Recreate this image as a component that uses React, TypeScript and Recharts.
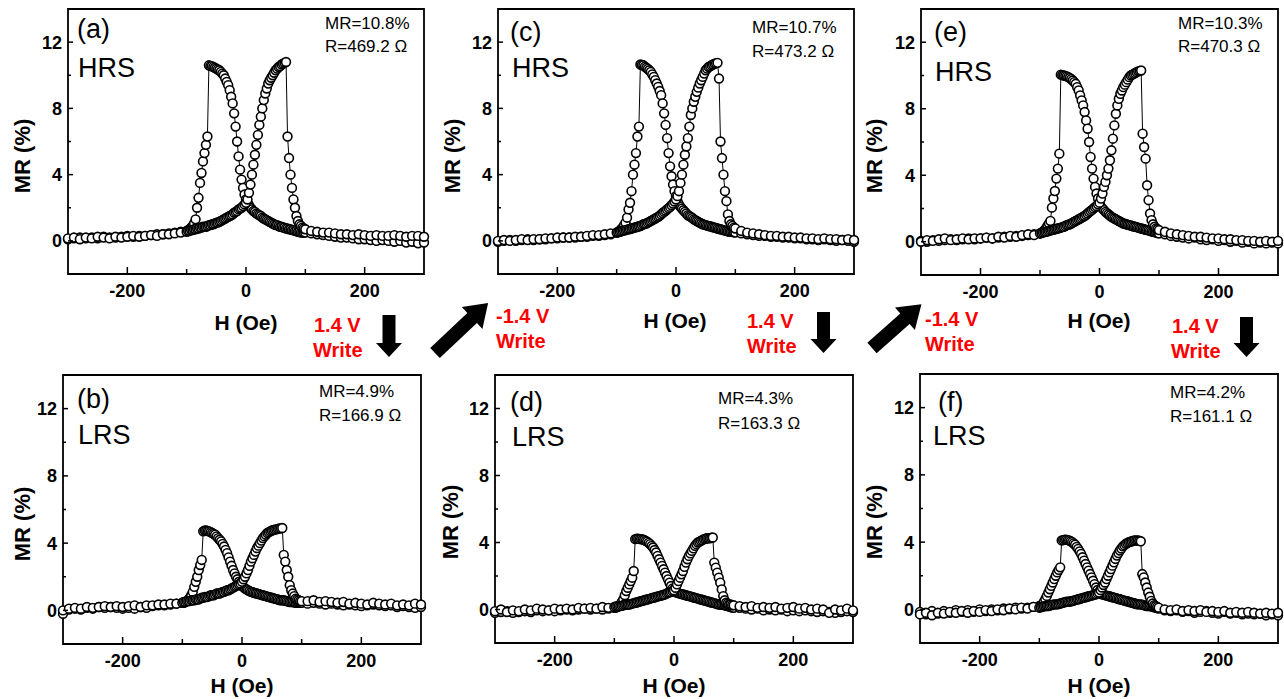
import React from 'react';
import { LineChart, Line, XAxis, YAxis, ReferenceArea } from 'recharts';

// field grid shared by every sweep (Oe), low to high
const H_FIELD = [
  -300, -290, -280, -270, -260, -250, -240, -230, -220, -210, -200, -190, -180, -170, -160, -150, -140, -130, -120, -110,
  -100, -97.5, -95, -92.5, -90, -87.5, -85, -82.5, -80, -77.5, -75, -72.5, -70, -67.5, -65, -62.5, -60, -57.5, -55, -52.5,
  -50, -47.5, -45, -42.5, -40, -37.5, -35, -32.5, -30, -27.5, -25, -22.5, -20, -17.5, -15, -12.5, -10, -7.5, -5, -2.5, 0,
  2.5, 5, 7.5, 10, 12.5, 15, 17.5, 20, 22.5, 25, 27.5, 30, 32.5, 35, 37.5, 40, 42.5, 45, 47.5, 50,
  52.5, 55, 57.5, 60, 62.5, 65, 67.5, 70, 72.5, 75, 77.5, 80, 82.5, 85, 87.5, 90, 92.5, 95, 97.5, 100,
  110, 120, 130, 140, 150, 160, 170, 180, 190, 200, 210, 220, 230, 240, 250, 260, 270, 280, 290, 300,
];

const X_TICKS = [-200, -100, 0, 100, 200];
const X_LABELS = [-200, 0, 200];
const Y_TICKS = [0, 2, 4, 6, 8, 10, 12];
const Y_LABELS = [0, 4, 8, 12];

// MR (%) per panel, "up" = sweep from -300 to +300, "down" = sweep from +300 to -300
const mrA_up = [
  0.15, 0.2, 0.1, 0.2, 0.15, 0.25, 0.2, 0.15, 0.25, 0.2, 0.25, 0.3, 0.25, 0.3, 0.35, 0.3, 0.4, 0.4, 0.45, 0.5,
  0.55, 0.6, 0.6, 0.65, 0.65, 0.7, 0.7, 0.75, 0.75, 0.8, 0.8, 0.85, 0.85, 0.85, 0.9, 0.95, 0.95, 1.0, 1.0, 1.05,
  1.1, 1.1, 1.15, 1.2, 1.25, 1.3, 1.35, 1.4, 1.45, 1.5, 1.55, 1.6, 1.7, 1.75, 1.8, 1.9, 1.95, 2.0, 2.1, 2.2, 2.3,
  2.5, 2.9, 3.4, 4.0, 4.6, 5.2, 5.8, 6.4, 7.0, 7.5, 8.0, 8.5, 8.9, 9.2, 9.5, 9.7, 9.85, 10.0, 10.15, 10.3,
  10.4, 10.5, 10.55, 10.65, 10.7, 10.75, 10.8, 6.3, 5.0, 4.0, 3.2, 2.5, 2.0, 1.5, 1.2, 1.0, 0.9, 0.8, 0.75, 0.7,
  0.6, 0.55, 0.5, 0.5, 0.45, 0.4, 0.4, 0.35, 0.4, 0.35, 0.3, 0.35, 0.3, 0.3, 0.35, 0.3, 0.25, 0.3, 0.3, 0.25,
];
const mrA_down = [
  0.1, 0.15, 0.2, 0.15, 0.2, 0.15, 0.25, 0.2, 0.2, 0.25, 0.3, 0.25, 0.3, 0.3, 0.35, 0.4, 0.4, 0.45, 0.5, 0.55,
  0.6, 0.65, 0.7, 0.8, 0.9, 1.05, 1.3, 2.0, 2.6, 3.5, 4.1, 4.8, 5.3, 5.8, 6.3, 10.6, 10.55, 10.55, 10.5, 10.45,
  10.4, 10.35, 10.3, 10.2, 10.1, 10.0, 9.8, 9.6, 9.4, 9.1, 8.7, 8.3, 7.7, 6.9, 6.0, 5.1, 4.3, 3.7, 3.2, 2.8, 2.5,
  2.3, 2.15, 2.0, 1.9, 1.8, 1.75, 1.65, 1.6, 1.55, 1.5, 1.4, 1.35, 1.3, 1.25, 1.2, 1.15, 1.1, 1.05, 1.0, 0.95,
  0.95, 0.9, 0.85, 0.85, 0.8, 0.8, 0.75, 0.75, 0.7, 0.7, 0.65, 0.65, 0.6, 0.6, 0.55, 0.55, 0.5, 0.5, 0.5, 0.5,
  0.45, 0.4, 0.35, 0.3, 0.25, 0.2, 0.2, 0.15, 0.1, 0.1, 0.05, 0.0, 0.05, 0.0, -0.05, 0.0, -0.1, -0.05, -0.15, -0.1,
];

const mrB_up = [
  0.0, 0.1, 0.15, 0.1, 0.2, 0.15, 0.2, 0.25, 0.2, 0.25, 0.2, 0.25, 0.3, 0.2, 0.3, 0.3, 0.35, 0.35, 0.4, 0.4,
  0.45, 0.5, 0.5, 0.55, 0.55, 0.55, 0.6, 0.6, 0.6, 0.65, 0.65, 0.65, 0.7, 0.75, 0.75, 0.8, 0.8, 0.8, 0.85, 0.9,
  0.9, 0.9, 0.95, 1.0, 1.0, 1.0, 1.05, 1.1, 1.1, 1.15, 1.2, 1.2, 1.25, 1.3, 1.35, 1.4, 1.45, 1.5, 1.55, 1.6, 1.7,
  1.85, 2.0, 2.2, 2.4, 2.65, 2.9, 3.1, 3.3, 3.5, 3.7, 3.85, 4.0, 4.15, 4.3, 4.4, 4.5, 4.6, 4.65, 4.7, 4.75,
  4.78, 4.8, 4.82, 4.85, 4.87, 4.88, 4.9, 3.3, 2.9, 2.4, 2.0, 1.5, 1.2, 1.0, 0.85, 0.7, 0.65, 0.6, 0.55, 0.55,
  0.55, 0.6, 0.5, 0.55, 0.5, 0.45, 0.5, 0.4, 0.45, 0.4, 0.35, 0.45, 0.4, 0.35, 0.4, 0.3, 0.35, 0.3, 0.4, 0.35,
];
const mrB_down = [
  -0.2, 0.05, 0.1, 0.05, 0.15, 0.1, 0.2, 0.15, 0.2, 0.15, 0.1, 0.15, 0.1, 0.2, 0.15, 0.25, 0.3, 0.3, 0.35, 0.4,
  0.45, 0.45, 0.5, 0.55, 0.6, 0.75, 0.9, 1.1, 1.4, 1.7, 2.0, 2.4, 2.7, 3.0, 4.7, 4.75, 4.75, 4.72, 4.7, 4.65,
  4.6, 4.55, 4.5, 4.4, 4.3, 4.2, 4.1, 3.95, 3.8, 3.6, 3.4, 3.15, 2.9, 2.65, 2.4, 2.2, 2.0, 1.85, 1.7, 1.55, 1.45,
  1.38, 1.3, 1.25, 1.2, 1.15, 1.1, 1.08, 1.05, 1.02, 1.0, 0.97, 0.95, 0.92, 0.9, 0.87, 0.85, 0.82, 0.8, 0.77, 0.75,
  0.72, 0.7, 0.67, 0.65, 0.62, 0.6, 0.6, 0.6, 0.57, 0.55, 0.52, 0.5, 0.5, 0.5, 0.48, 0.45, 0.45, 0.45, 0.45, 0.45,
  0.4, 0.45, 0.4, 0.35, 0.4, 0.35, 0.3, 0.35, 0.3, 0.25, 0.3, 0.35, 0.3, 0.25, 0.3, 0.2, 0.25, 0.2, 0.15, 0.2,
];

const mrC_up = [
  0.0, 0.05, 0.0, 0.05, 0.1, 0.05, 0.1, 0.1, 0.15, 0.15, 0.2, 0.2, 0.2, 0.25, 0.25, 0.3, 0.35, 0.35, 0.4, 0.45,
  0.5, 0.52, 0.55, 0.58, 0.6, 0.62, 0.65, 0.68, 0.7, 0.72, 0.75, 0.78, 0.8, 0.82, 0.85, 0.88, 0.9, 0.95, 1.0, 1.02,
  1.05, 1.1, 1.15, 1.2, 1.25, 1.3, 1.35, 1.4, 1.45, 1.52, 1.6, 1.68, 1.75, 1.82, 1.9, 1.98, 2.05, 2.15, 2.25, 2.38, 2.5,
  2.7, 3.0, 3.5, 4.0, 4.6, 5.2, 5.7, 6.2, 6.9, 7.6, 8.0, 8.4, 8.7, 9.0, 9.25, 9.5, 9.7, 9.9, 10.1, 10.3,
  10.4, 10.5, 10.55, 10.6, 10.65, 10.7, 10.72, 10.75, 9.8, 6.0, 5.0, 4.0, 3.0, 2.4, 1.6, 1.2, 1.0, 0.9, 0.8, 0.75,
  0.6, 0.5, 0.45, 0.4, 0.35, 0.3, 0.3, 0.25, 0.25, 0.2, 0.2, 0.15, 0.15, 0.1, 0.15, 0.1, 0.1, 0.05, 0.1, 0.05,
];
const mrC_down = [
  -0.05, 0.0, 0.05, 0.0, 0.05, 0.1, 0.05, 0.1, 0.1, 0.15, 0.15, 0.2, 0.2, 0.2, 0.25, 0.25, 0.3, 0.3, 0.35, 0.4,
  0.5, 0.55, 0.6, 0.7, 0.8, 0.95, 1.1, 1.4, 1.9, 2.3, 3.0, 4.0, 4.6, 5.3, 6.3, 6.9, 10.65, 10.62, 10.6, 10.52,
  10.45, 10.38, 10.3, 10.2, 10.05, 9.9, 9.7, 9.5, 9.3, 9.05, 8.8, 8.3, 7.7, 7.0, 6.2, 5.3, 4.5, 3.9, 3.4, 3.0, 2.7,
  2.4, 2.2, 2.05, 1.95, 1.85, 1.75, 1.65, 1.55, 1.5, 1.45, 1.38, 1.3, 1.25, 1.2, 1.15, 1.1, 1.05, 1.0, 0.98, 0.95,
  0.92, 0.9, 0.88, 0.85, 0.82, 0.8, 0.78, 0.75, 0.72, 0.7, 0.68, 0.65, 0.62, 0.6, 0.58, 0.55, 0.55, 0.55, 0.52, 0.5,
  0.45, 0.4, 0.35, 0.3, 0.3, 0.25, 0.25, 0.2, 0.2, 0.15, 0.15, 0.1, 0.1, 0.05, 0.1, 0.05, 0.0, 0.05, 0.0, -0.05,
];

const mrD_up = [
  -0.1, 0.0, -0.15, -0.05, -0.1, 0.0, -0.05, 0.05, 0.0, -0.05, 0.05, 0.0, 0.05, 0.0, 0.1, 0.05, 0.1, 0.05, 0.15, 0.1,
  0.15, 0.18, 0.2, 0.2, 0.2, 0.22, 0.25, 0.28, 0.3, 0.3, 0.3, 0.32, 0.35, 0.38, 0.4, 0.42, 0.45, 0.48, 0.5, 0.52,
  0.55, 0.58, 0.6, 0.62, 0.65, 0.68, 0.7, 0.72, 0.75, 0.78, 0.8, 0.82, 0.85, 0.88, 0.9, 0.95, 1.0, 1.02, 1.05, 1.1, 1.15,
  1.3, 1.5, 1.7, 1.9, 2.1, 2.3, 2.55, 2.8, 3.0, 3.2, 3.35, 3.5, 3.65, 3.8, 3.9, 4.0, 4.05, 4.1, 4.15, 4.2,
  4.22, 4.25, 4.25, 4.25, 4.28, 4.3, 2.8, 2.5, 2.2, 1.9, 1.6, 1.2, 0.8, 0.55, 0.4, 0.35, 0.3, 0.3, 0.25, 0.25,
  0.2, 0.15, 0.2, 0.1, 0.15, 0.1, 0.15, 0.05, 0.1, 0.15, 0.05, 0.1, 0.0, 0.05, 0.0, -0.2, 0.0, -0.05, 0.05, -0.05,
];
const mrD_down = [
  -0.2, -0.15, -0.1, -0.2, -0.15, -0.1, -0.15, -0.05, -0.1, -0.05, -0.1, -0.05, 0.0, -0.05, 0.0, 0.05, 0.0, 0.05, 0.0, 0.05,
  0.1, 0.12, 0.15, 0.2, 0.3, 0.45, 0.6, 0.85, 1.1, 1.3, 1.5, 1.7, 1.9, 2.3, 4.2, 4.22, 4.22, 4.2, 4.2, 4.18,
  4.15, 4.1, 4.05, 3.98, 3.9, 3.8, 3.7, 3.55, 3.4, 3.2, 3.0, 2.8, 2.6, 2.4, 2.2, 2.0, 1.8, 1.6, 1.4, 1.25, 1.1,
  1.05, 1.0, 0.98, 0.95, 0.92, 0.9, 0.88, 0.85, 0.82, 0.8, 0.78, 0.75, 0.72, 0.7, 0.68, 0.65, 0.62, 0.6, 0.58, 0.55,
  0.52, 0.5, 0.48, 0.45, 0.42, 0.4, 0.38, 0.35, 0.32, 0.3, 0.3, 0.3, 0.28, 0.25, 0.22, 0.2, 0.18, 0.15, 0.12, 0.1,
  0.1, 0.05, 0.0, 0.05, -0.05, 0.0, -0.05, 0.0, -0.1, -0.05, -0.1, -0.05, -0.1, -0.15, -0.1, -0.15, -0.2, -0.15, -0.1, -0.15,
];

const mrE_up = [
  0.0, 0.1, 0.05, 0.15, 0.2, 0.1, 0.15, 0.2, 0.15, 0.2, 0.2, 0.25, 0.2, 0.3, 0.25, 0.35, 0.3, 0.4, 0.45, 0.4,
  0.5, 0.52, 0.55, 0.58, 0.6, 0.62, 0.65, 0.68, 0.7, 0.72, 0.75, 0.78, 0.8, 0.82, 0.85, 0.88, 0.9, 0.95, 1.0, 1.02,
  1.05, 1.1, 1.15, 1.2, 1.25, 1.3, 1.35, 1.4, 1.45, 1.5, 1.55, 1.62, 1.7, 1.78, 1.85, 1.92, 2.0, 2.08, 2.15, 2.25, 2.35,
  2.6, 2.9, 3.3, 3.6, 4.0, 4.4, 4.9, 5.5, 6.2, 7.0, 7.7, 8.2, 8.6, 8.9, 9.1, 9.3, 9.45, 9.6, 9.75, 9.9,
  10.0, 10.05, 10.1, 10.15, 10.2, 10.25, 10.28, 10.3, 6.5, 5.7, 5.0, 3.4, 2.5, 1.7, 1.3, 1.05, 0.9, 0.8, 0.75, 0.7,
  0.6, 0.5, 0.45, 0.4, 0.35, 0.3, 0.3, 0.25, 0.2, 0.2, 0.15, 0.15, 0.1, 0.1, 0.05, 0.05, 0.0, 0.05, 0.0, 0.05,
];
const mrE_down = [
  0.05, 0.0, 0.1, 0.05, 0.1, 0.15, 0.1, 0.15, 0.2, 0.15, 0.2, 0.25, 0.2, 0.25, 0.3, 0.3, 0.35, 0.35, 0.4, 0.45,
  0.5, 0.55, 0.6, 0.7, 0.8, 0.95, 1.1, 1.25, 2.05, 2.6, 3.05, 3.8, 4.4, 5.3, 10.05, 10.02, 10.0, 9.98, 9.95, 9.9,
  9.85, 9.78, 9.7, 9.6, 9.5, 9.3, 9.1, 8.8, 8.5, 8.2, 7.8, 7.3, 6.8, 6.0, 5.1, 4.4, 3.8, 3.3, 2.9, 2.6, 2.3,
  2.1, 2.0, 1.9, 1.8, 1.72, 1.65, 1.58, 1.5, 1.45, 1.4, 1.35, 1.3, 1.25, 1.2, 1.15, 1.1, 1.08, 1.05, 1.02, 1.0,
  0.98, 0.95, 0.92, 0.9, 0.88, 0.85, 0.82, 0.8, 0.78, 0.75, 0.72, 0.7, 0.68, 0.65, 0.62, 0.6, 0.58, 0.55, 0.52, 0.5,
  0.45, 0.35, 0.3, 0.25, 0.2, 0.25, 0.15, 0.1, 0.15, 0.05, 0.1, 0.0, 0.05, -0.05, 0.0, -0.1, -0.05, -0.1, -0.05, -0.1,
];

const mrF_up = [
  -0.3, -0.2, -0.35, -0.2, -0.25, -0.15, -0.2, -0.1, -0.2, -0.1, -0.15, -0.05, -0.1, 0.0, -0.05, 0.05, 0.0, 0.1, 0.05, 0.15,
  0.1, 0.12, 0.15, 0.18, 0.2, 0.2, 0.2, 0.22, 0.25, 0.28, 0.3, 0.3, 0.3, 0.32, 0.35, 0.38, 0.4, 0.42, 0.45, 0.45,
  0.45, 0.48, 0.5, 0.52, 0.55, 0.58, 0.6, 0.62, 0.65, 0.68, 0.7, 0.72, 0.75, 0.78, 0.8, 0.82, 0.85, 0.88, 0.9, 0.95, 1.0,
  1.15, 1.3, 1.45, 1.6, 1.8, 2.0, 2.2, 2.4, 2.6, 2.8, 3.0, 3.2, 3.35, 3.5, 3.62, 3.75, 3.82, 3.9, 3.95, 4.0,
  4.02, 4.05, 4.08, 4.1, 4.1, 4.1, 4.08, 4.05, 2.1, 1.9, 1.6, 1.3, 1.0, 0.75, 0.5, 0.35, 0.25, 0.2, 0.15, 0.1,
  0.0, -0.05, 0.0, -0.1, -0.05, -0.1, -0.05, -0.15, -0.1, -0.15, -0.1, -0.2, -0.15, -0.2, -0.15, -0.2, -0.25, -0.2, -0.25, -0.2,
];
const mrF_down = [
  -0.15, -0.3, -0.1, -0.25, -0.1, -0.2, -0.05, -0.15, -0.05, -0.15, 0.0, -0.1, 0.0, -0.05, 0.05, 0.0, 0.1, 0.05, 0.1, 0.15,
  0.2, 0.22, 0.3, 0.45, 0.6, 0.8, 1.0, 1.2, 1.4, 1.6, 1.8, 2.0, 2.2, 2.35, 2.5, 4.1, 4.12, 4.15, 4.15, 4.12,
  4.1, 4.05, 4.0, 3.92, 3.85, 3.72, 3.6, 3.45, 3.3, 3.1, 2.9, 2.7, 2.5, 2.3, 2.1, 1.9, 1.7, 1.5, 1.3, 1.15, 1.0,
  0.95, 0.9, 0.88, 0.85, 0.82, 0.8, 0.78, 0.75, 0.72, 0.7, 0.68, 0.65, 0.62, 0.6, 0.58, 0.55, 0.52, 0.5, 0.48, 0.45,
  0.42, 0.4, 0.38, 0.35, 0.32, 0.3, 0.3, 0.3, 0.28, 0.25, 0.22, 0.2, 0.2, 0.2, 0.18, 0.15, 0.12, 0.1, 0.08, 0.05,
  -0.05, -0.1, -0.05, -0.15, -0.1, -0.2, -0.15, -0.1, -0.2, -0.25, -0.15, -0.25, -0.2, -0.3, -0.25, -0.3, -0.25, -0.35, -0.3, -0.35,
];

const PANEL_LETTERS = ['(a)', '(b)', '(c)', '(d)', '(e)', '(f)'];
const PANEL_STATES = ['HRS', 'LRS', 'HRS', 'LRS', 'HRS', 'LRS'];
const PANEL_MR = ['MR=10.8%', 'MR=4.9%', 'MR=10.7%', 'MR=4.3%', 'MR=10.3%', 'MR=4.2%'];
const PANEL_R = ['R=469.2 Ω', 'R=166.9 Ω', 'R=473.2 Ω', 'R=163.3 Ω', 'R=470.3 Ω', 'R=161.1 Ω'];

const FONT = "'Liberation Sans', Arial, Helvetica, sans-serif";

// plot boxes on the page: left, top, width, height
const panels = [
  { box: [68, 9, 356, 265], up: mrA_up, down: mrA_down, letter: [77, 38], state: [78, 77], note: [325, 29, 52], xt: [246, 330], yt: [23, 156] },
  { box: [63, 375, 358, 269], up: mrB_up, down: mrB_down, letter: [77, 408], state: [78, 444], note: [319, 397, 421], xt: [242, 693], yt: [23, 524] },
  { box: [498, 9, 356, 265], up: mrC_up, down: mrC_down, letter: [510, 41], state: [512, 77], note: [752, 33, 57], xt: [675, 328], yt: [453, 156] },
  { box: [495, 375, 358, 268], up: mrD_up, down: mrD_down, letter: [510, 411], state: [512, 446], note: [718, 404, 429], xt: [674, 693], yt: [451, 522] },
  { box: [921, 9, 357, 266], up: mrE_up, down: mrE_down, letter: [934, 41], state: [935, 81], note: [1178, 29, 52], xt: [1099, 328], yt: [875, 156] },
  { box: [920, 374, 358, 269], up: mrF_up, down: mrF_down, letter: [938, 411], state: [933, 445], note: [1170, 398, 422], xt: [1099, 693], yt: [875, 522] },
];

const XTick = ({ x, y, payload }: any) => {
  const labeled = X_LABELS.includes(payload.value);
  return (
    <g>
      <line x1={x} x2={x} y1={y} y2={y - (labeled ? 7 : 5)} stroke="#000" strokeWidth={1.5} />
      {labeled && (
        <text x={x} y={y + 23} textAnchor="middle" fontFamily={FONT} fontWeight="bold" fontSize={18} fill="#000">
          {payload.value}
        </text>
      )}
    </g>
  );
};

const YTick = ({ x, y, payload }: any) => {
  const labeled = Y_LABELS.includes(payload.value);
  return (
    <g>
      <line x1={x} x2={x + (labeled ? 5 : 3)} y1={y} y2={y} stroke="#000" strokeWidth={1.5} />
      {labeled && (
        <text x={x - 6} y={y + 6.5} textAnchor="end" fontFamily={FONT} fontWeight="bold" fontSize={18} fill="#000">
          {payload.value}
        </text>
      )}
    </g>
  );
};

const dotStyle = { r: 4.4, fill: '#fff', stroke: '#000', strokeWidth: 1.6 };

function Panel({ p }: any) {
  const [bx, by, bw, bh] = p.box;
  const ML = 60, MT = 8, MR = 8, MB = 40;
  const data = H_FIELD.map((h, i) => ({ h, up: p.up[i], down: p.down[i] }));
  return (
    <div style={{ position: 'absolute', left: bx - ML, top: by - MT }}>
      <LineChart width={bw + ML + MR} height={bh + MT + MB} data={data} margin={{ top: MT, right: MR, bottom: MB - 30, left: ML - 50 }}>
        <XAxis dataKey="h" type="number" domain={[-300, 300]} ticks={X_TICKS} interval={0} height={30}
          tickSize={0} tickMargin={0} axisLine={false} tick={<XTick />} />
        <YAxis type="number" domain={[-2, 14]} ticks={Y_TICKS} interval={0} width={50}
          tickSize={0} tickMargin={0} axisLine={false} tick={<YTick />} />
        <ReferenceArea x1={-300} x2={300} y1={-2} y2={14} fill="none" fillOpacity={0} stroke="#000" strokeWidth={1.8} />
        <Line dataKey="down" type="linear" stroke="#000" strokeWidth={1} dot={dotStyle} activeDot={false} isAnimationActive={false} />
        <Line dataKey="up" type="linear" stroke="#000" strokeWidth={1} dot={dotStyle} activeDot={false} isAnimationActive={false} />
      </LineChart>
    </div>
  );
}

const RED = '#ff0000';

function DownArrow({ x, top, headY, tip }: { x: number; top: number; headY: number; tip: number }) {
  const pts = [[x - 6.5, top], [x + 6.5, top], [x + 6.5, headY], [x + 13, headY], [x, tip], [x - 13, headY], [x - 6.5, headY]];
  return <polygon points={pts.map((q) => q.join(',')).join(' ')} fill="#000" />;
}

function DiagArrow({ x, y, len, angle }: { x: number; y: number; len: number; angle: number }) {
  const pts = [[0, -7], [len - 22, -7], [len - 22, -15], [len, 0], [len - 22, 15], [len - 22, 7], [0, 7]];
  return <polygon transform={`translate(${x},${y}) rotate(${angle})`} points={pts.map((q) => q.join(',')).join(' ')} fill="#000" />;
}

export default function App() {
  return (
    <div style={{ position: 'fixed', left: 0, top: 0, width: 1284, height: 699, background: '#fff', overflow: 'hidden' }}>
      {panels.map((p, i) => (
        <Panel key={i} p={p} />
      ))}
      <svg width={1284} height={699} style={{ position: 'absolute', left: 0, top: 0, pointerEvents: 'none' }}>
        {panels.map((p, i) => (
          <g key={i} fontFamily={FONT} fill="#000">
            <text x={p.letter[0]} y={p.letter[1]} fontSize={27}>{PANEL_LETTERS[i]}</text>
            <text x={p.state[0]} y={p.state[1]} fontSize={27}>{PANEL_STATES[i]}</text>
            <text x={p.note[0]} y={p.note[1]} fontSize={17}>{PANEL_MR[i]}</text>
            <text x={p.note[0]} y={p.note[2]} fontSize={17}>{PANEL_R[i]}</text>
            <text x={p.xt[0]} y={p.xt[1]} fontSize={21} fontWeight="bold" textAnchor="middle">H (Oe)</text>
            <text x={p.yt[0] + 7} y={p.yt[1]} fontSize={22} fontWeight="bold" textAnchor="middle"
              transform={`rotate(-90, ${p.yt[0] + 7}, ${p.yt[1]})`}>MR (%)</text>
          </g>
        ))}
        <g fontFamily={FONT} fontWeight="bold" fontSize={20} fill={RED}>
          <text x={314} y={332}>1.4 V</text>
          <text x={313} y={357}>Write</text>
          <text x={496} y={323}>-1.4 V</text>
          <text x={496} y={348}>Write</text>
          <text x={747} y={328}>1.4 V</text>
          <text x={747} y={353}>Write</text>
          <text x={925} y={326}>-1.4 V</text>
          <text x={925} y={351}>Write</text>
          <text x={1172} y={333}>1.4 V</text>
          <text x={1171} y={358}>Write</text>
        </g>
        <DownArrow x={389} top={315} headY={343} tip={357} />
        <DownArrow x={823.5} top={312} headY={339} tip={353} />
        <DownArrow x={1246.5} top={317} headY={343} tip={357} />
        <DiagArrow x={435} y={353} len={73} angle={-43.3} />
        <DiagArrow x={872} y={348} len={66} angle={-41.5} />
      </svg>
    </div>
  );
}
